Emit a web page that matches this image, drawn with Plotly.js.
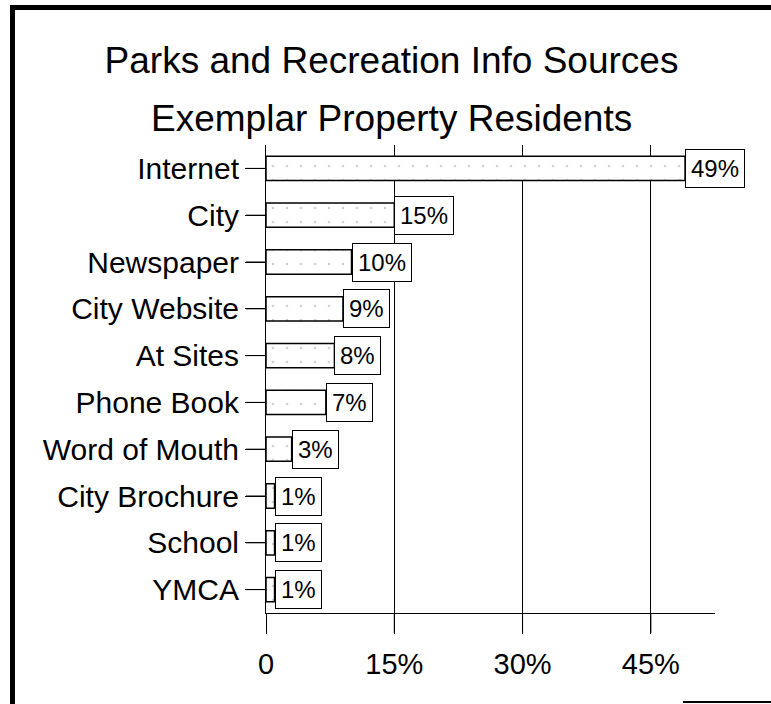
<!DOCTYPE html>
<html>
<head>
<meta charset="utf-8">
<script src="https://cdn.plot.ly/plotly-3.0.1.min.js"></script>
<style>
  html, body { margin: 0; padding: 0; background: #fff; }
  #chart { width: 771px; height: 704px; }
</style>
</head>
<body>
<div id="chart"></div>
<script>
const categories = ['Internet', 'City', 'Newspaper', 'City Website', 'At Sites', 'Phone Book', 'Word of Mouth', 'City Brochure', 'School', 'YMCA'];
const values = [49, 15, 10, 9, 8, 7, 3, 1, 1, 1];
const valueLabels = ['49%', '15%', '10%', '9%', '8%', '7%', '3%', '1%', '1%', '1%'];
const xTickVals = [0, 15, 30, 45];
const xTickText = ['0', '15%', '30%', '45%'];
const titleLine1 = 'Parks and Recreation Info Sources';
const titleLine2 = 'Exemplar Property Residents';

const FONT = 'Liberation Sans, Arial, Helvetica, sans-serif';

const trace = {
  type: 'bar',
  orientation: 'h',
  y: categories,
  x: values,
  marker: {
    color: '#ffffff',
    line: { color: '#000000', width: 1.5 },
    pattern: { shape: '.', fgcolor: '#d2d2d2', bgcolor: '#ffffff', size: 14, solidity: 0.03 }
  },
  hoverinfo: 'none'
};

const annotations = categories.map((c, i) => ({
  x: values[i], y: c, xref: 'x', yref: 'y',
  text: valueLabels[i], showarrow: false,
  xanchor: 'left', yanchor: 'middle',
  font: { family: FONT, size: 24, color: '#000' },
  bordercolor: '#000', borderwidth: 1, borderpad: 5, bgcolor: '#fff'
}));

annotations.push({
  text: titleLine2, showarrow: false,
  xref: 'paper', yref: 'paper',
  x: (391.5 - 266) / 449, y: (613 - 118) / 468,
  xanchor: 'center', yanchor: 'middle',
  font: { family: FONT, size: 37, color: '#000' }
});

const px = v => (v - 266) / 449;
const py = v => (613 - v) / 468;
const TICK = 20;

const shapes = [
  { type: 'line', xref: 'paper', yref: 'paper', x0: px(12.5), x1: px(12.5), y0: py(5), y1: py(704), line: { color: '#000', width: 5 } },
  { type: 'line', xref: 'paper', yref: 'paper', x0: px(10), x1: px(771), y0: py(7.5), y1: py(7.5), line: { color: '#000', width: 5 } },
  { type: 'line', xref: 'paper', yref: 'paper', x0: px(683), x1: px(771), y0: py(702), y1: py(702), line: { color: '#000', width: 2 } }
];
// tick marks placed through the axes' own scales (category / value refs)
categories.forEach(c => shapes.push({
  type: 'line', xref: 'paper', yref: 'y', x0: -TICK / 449, x1: 0, y0: c, y1: c,
  line: { color: '#000', width: 1 }
}));
xTickVals.forEach(v => shapes.push({
  type: 'line', xref: 'x', yref: 'paper', x0: v, x1: v, y0: 0, y1: -TICK / 468,
  line: { color: '#000', width: 1 }
}));

const layout = {
  width: 771, height: 704,
  margin: { l: 266, r: 56, t: 145, b: 91 },
  paper_bgcolor: '#fff', plot_bgcolor: '#fff',
  showlegend: false,
  bargap: 0.48,
  title: {
    text: titleLine1,
    font: { family: FONT, size: 37, color: '#000' },
    x: 391.5 / 771, xanchor: 'center', xref: 'container',
    y: 1 - 60 / 704, yanchor: 'middle', yref: 'container'
  },
  xaxis: {
    range: [0, 52.5],
    tickmode: 'array',
    tickvals: xTickVals, ticktext: xTickText,
    showgrid: true, gridcolor: '#000',
    zeroline: false,
    showline: true, linecolor: '#000', linewidth: 1,
    ticks: 'outside', ticklen: TICK, tickcolor: '#000', tickwidth: 1,
    ticklabelstandoff: 5,
    tickfont: { family: FONT, size: 29, color: '#000' },
    fixedrange: true
  },
  yaxis: {
    type: 'category',
    autorange: 'reversed',
    showgrid: false, zeroline: false,
    showline: true, linecolor: '#000', linewidth: 1,
    ticks: 'outside', ticklen: TICK, tickcolor: '#000', tickwidth: 1,
    tickfont: { family: FONT, size: 30, color: '#000' },
    fixedrange: true
  },
  annotations: annotations,
  shapes: shapes
};

Plotly.newPlot('chart', [trace], layout, { displayModeBar: false, staticPlot: true });
</script>
</body>
</html>
